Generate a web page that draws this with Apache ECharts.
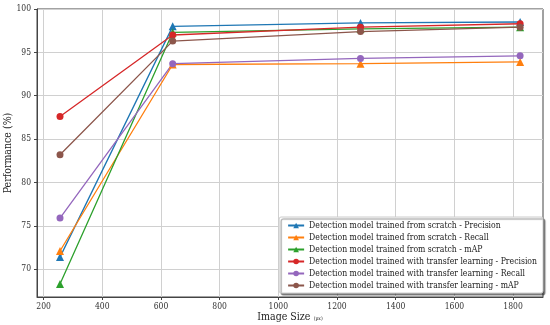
<!DOCTYPE html>
<html>
<head>
<meta charset="utf-8">
<script src="https://cdn.jsdelivr.net/npm/echarts@6/dist/echarts.min.js"></script>
<style>
html,body{margin:0;padding:0;background:#fff;}
#chart{width:550px;height:325px;}
</style>
</head>
<body>
<div id="chart"></div>
<script>
const imageSizes = [256, 640, 1280, 1824];
const scratchPrecision = [71.4, 98.0, 98.4, 98.5];
const scratchRecall = [72.1, 93.6, 93.7, 93.9];
const scratchMAP = [68.3, 97.3, 97.7, 97.9];
const transferPrecision = [87.6, 97.0, 97.9, 98.3];
const transferRecall = [75.9, 93.7, 94.3, 94.6];
const transferMAP = [83.2, 96.3, 97.4, 97.9];
const xTicks = [200, 400, 600, 800, 1000, 1200, 1400, 1600, 1800];
const yTicks = [70, 75, 80, 85, 90, 95, 100];

const seriesDefs = [
  {name: 'Detection model trained from scratch - Precision', data: scratchPrecision, color: '#1f77b4', symbol: 'triangle'},
  {name: 'Detection model trained from scratch - Recall', data: scratchRecall, color: '#ff7f0e', symbol: 'triangle'},
  {name: 'Detection model trained from scratch - mAP', data: scratchMAP, color: '#2ca02c', symbol: 'triangle'},
  {name: 'Detection model trained with transfer learning - Precision', data: transferPrecision, color: '#d62728', symbol: 'circle'},
  {name: 'Detection model trained with transfer learning - Recall', data: transferRecall, color: '#9467bd', symbol: 'circle'},
  {name: 'Detection model trained with transfer learning - mAP', data: transferMAP, color: '#8c564b', symbol: 'circle'}
];

const FONT = "'DejaVu Serif Condensed', 'DejaVu Serif', serif";
const chart = echarts.init(document.getElementById('chart'), null, {renderer: 'canvas'});
chart.setOption({
  animation: false,
  backgroundColor: '#fff',
  grid: {left: 37, right: 7, top: 9, bottom: 28, show: true, borderColor: '#444', borderWidth: 1, backgroundColor: 'transparent', outerBoundsMode: 'none', containLabel: false},
  xAxis: {
    type: 'value', min: 177.6, max: 1902,
    name: '{a|Image Size} {b|(px)}', nameLocation: 'middle', nameGap: 14, nameMoveOverlap: false,
    nameTextStyle: {rich: {a: {fontFamily: FONT, fontSize: 10.5, color: '#222'}, b: {fontFamily: FONT, fontSize: 5, color: '#222', padding: [3,0,0,0]}}},
    axisLine: {show: true, lineStyle: {color: '#444', width: 1}},
    axisTick: {show: true, length: 3, lineStyle: {color: '#444'}, customValues: xTicks},
    axisLabel: {fontFamily: FONT, fontSize: 8.5, color: '#333', margin: 5, customValues: xTicks,
      formatter: v => String(Math.round(v))},
    splitLine: {show: true, lineStyle: {color: '#d0d0d0', width: 1}}
  },
  yAxis: {
    type: 'value', min: 66.8, max: 100,
    name: 'Performance (%)', nameLocation: 'middle', nameGap: 23, nameRotate: 90, nameMoveOverlap: false,
    nameTextStyle: {fontFamily: FONT, fontSize: 10.5, color: '#222'},
    axisLine: {show: true, lineStyle: {color: '#444', width: 1}},
    axisTick: {show: true, length: 3, lineStyle: {color: '#444'}, customValues: yTicks},
    axisLabel: {fontFamily: FONT, fontSize: 8.5, color: '#333', margin: 6, customValues: yTicks,
      formatter: v => String(Math.round(v))},
    splitLine: {show: true, lineStyle: {color: '#d0d0d0', width: 1}}
  },
  legend: {
    orient: 'vertical', right: 7, bottom: 32,
    backgroundColor: '#fff', borderColor: '#cccccc', borderWidth: 1, borderRadius: 2,
    shadowColor: 'rgba(0,0,0,0.45)', shadowBlur: 1, shadowOffsetX: 2, shadowOffsetY: 2,
    padding: [4, 6, 3, 8], itemWidth: 16, itemHeight: 7, itemGap: 3,
    textStyle: {fontFamily: FONT, fontSize: 8.6, color: '#222', lineHeight: 9},
    data: seriesDefs.map(s => s.name)
  },
  series: seriesDefs.map(s => ({
    name: s.name, type: 'line',
    data: imageSizes.map((x, i) => [x, s.data[i]]),
    symbol: s.symbol, symbolSize: s.symbol === 'triangle' ? 8 : 7,
    showSymbol: true,
    itemStyle: {color: s.color},
    lineStyle: {color: s.color, width: 1.3},
    emphasis: {disabled: true}
  }))
});
</script>
</body>
</html>
